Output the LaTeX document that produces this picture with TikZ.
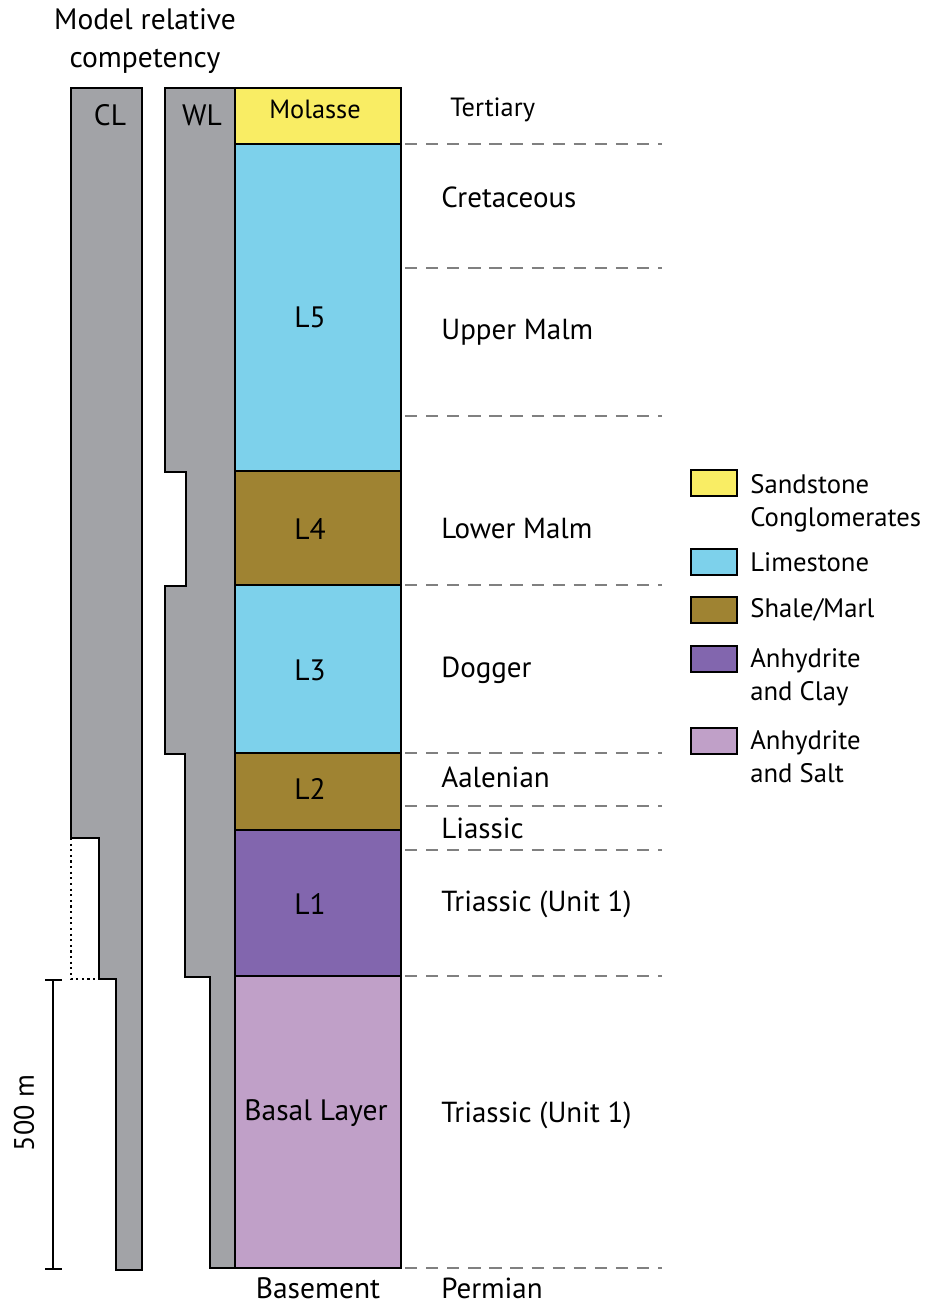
\documentclass[tikz,border=0pt]{standalone}
\usepackage{fontspec}
\setmainfont{PT Sans}
\definecolor{sandst}{RGB}{249,237,100}
\definecolor{limest}{RGB}{125,209,235}
\definecolor{shale}{RGB}{159,131,50}
\definecolor{anhclay}{RGB}{130,102,174}
\definecolor{anhsalt}{RGB}{192,160,200}
\definecolor{compet}{RGB}{162,163,167}
\begin{document}
\begin{tikzpicture}[x=0.02cm,y=-0.02cm]
%%%%%%%%%%%%%%%%%%%%%%%%%%%%%%%%%%%%%%%%%%%%%%%%%%%%%%%%
% STYLE
\tikzstyle{bed}=[draw,line width=1.2pt]
\tikzstyle{lay}=[font=\fontsize{16.8}{20}\selectfont]
\tikzstyle{age}=[anchor=west,inner sep=0pt,font=\fontsize{16.5}{20}\selectfont]
\tikzstyle{key}=[draw,line width=1.2pt,minimum width=0.92cm,minimum height=0.52cm,inner sep=0pt]
\tikzstyle{txt}=[anchor=west,align=left,inner sep=0pt,font=\fontsize{15.2}{18.8}\selectfont]

\tikzset{limit/.style={draw=gray,line width=1.1pt,dash pattern=on 7pt off 5pt}}

\useasboundingbox (0,0) rectangle (928,1304);

%%%%%%%%%%%%%%%%%%%%%%%%%%%%%%%%%%%%%%%%%%%%%%%%%%%%%%%%
% COMPETENCY
\node[align=center,font=\fontsize{16.8}{21.5}\selectfont] (MRC) at (145,41) {Model relative\\competency};

\draw[bed,fill=compet] (71,88) -- (142,88) -- (142,1270) -- (116,1270) -- (116,979)
  -- (99,979) -- (99,838) -- (71,838) -- cycle;
\draw[line width=1.2pt,dotted] (71,838) -- (71,979) -- (99,979);
\node[lay] (CL) at (110,115) {CL};

\draw[bed,fill=compet] (165,88) -- (235,88) -- (235,1268) -- (210,1268) -- (210,977)
  -- (185,977) -- (185,754) -- (165,754) -- (165,586) -- (186,586) -- (186,472)
  -- (165,472) -- cycle;
\node[lay] (WL) at (202,115) {WL};

% scale bar
\draw[line width=1pt] (45,980) -- (62,980) (53,980) -- (53,1269) (45,1269) -- (62,1269);
\node[rotate=90,font=\fontsize{16}{19}\selectfont] (S500) at (24,1113) {500 m};

%%%%%%%%%%%%%%%%%%%%%%%%%%%%%%%%%%%%%%%%%%%%%%%%%%%%%%%%
% LAYERS
\draw[bed,fill=sandst] (235,88) rectangle (401,144);
\draw[bed,fill=limest] (235,144) rectangle (401,471);
\draw[bed,fill=shale] (235,471) rectangle (401,585);
\draw[bed,fill=limest] (235,585) rectangle (401,753);
\draw[bed,fill=shale] (235,753) rectangle (401,830);
\draw[bed,fill=anhclay] (235,830) rectangle (401,976);
\draw[bed,fill=anhsalt] (235,976) rectangle (401,1268);

\node[lay,font=\fontsize{15}{18}\selectfont] (Mol) at (315,109) {Molasse};
\node[lay] (L5) at (310,317) {L5};
\node[lay] (L4) at (310,529) {L4};
\node[lay] (L3) at (310,670) {L3};
\node[lay] (L2) at (310,789) {L2};
\node[lay] (L1) at (310,904) {L1};
\node[lay] (BL) at (316,1113) {Basal Layer};
\node[lay] (Bsm) at (318,1288) {Basement};

%%%%%%%%%%%%%%%%%%%%%%%%%%%%%%%%%%%%%%%%%%%%%%%%%%%%%%%%
% AGES
\foreach \y in {144,268,416,585,753,806,850,976,1268}
  \draw[limit] (405,\y) -- (662,\y);

\node[age,font=\fontsize{15}{18}\selectfont] (A0) at (450,110) {Tertiary};
\node[age] (A1) at (441,197) {Cretaceous};
\node[age] (A2) at (441,332) {Upper Malm};
\node[age] (A3) at (441,529) {Lower Malm};
\node[age] (A4) at (441,670) {Dogger};
\node[age] (A5) at (441,777) {Aalenian};
\node[age] (A6) at (441,828) {Liassic};
\node[age] (A7) at (441,904) {Triassic (Unit 1)};
\node[age] (A8) at (441,1115) {Triassic (Unit 1)};
\node[age] (A9) at (441,1288) {Permian};

%%%%%%%%%%%%%%%%%%%%%%%%%%%%%%%%%%%%%%%%%%%%%%%%%%%%%%%%
% KEY
\node[key,fill=sandst] (K1) at (714,483) {};
\node[key,fill=limest] (K2) at (714,562) {};
\node[key,fill=shale] (K3) at (714,610) {};
\node[key,fill=anhclay] (K4) at (714,659) {};
\node[key,fill=anhsalt] (K5) at (714,741) {};

\node[txt,anchor=north west] (T1) at (750,474) {Sandstone\\Conglomerates};
\node[txt] (T2) at (750,562) {Limestone};
\node[txt] (T3) at (750,610) {Shale/Marl};
\node[txt,anchor=north west] (T4) at (750,648) {Anhydrite\\and Clay};
\node[txt,anchor=north west] (T5) at (750,730) {Anhydrite\\and Salt};

\end{tikzpicture}
\end{document}
